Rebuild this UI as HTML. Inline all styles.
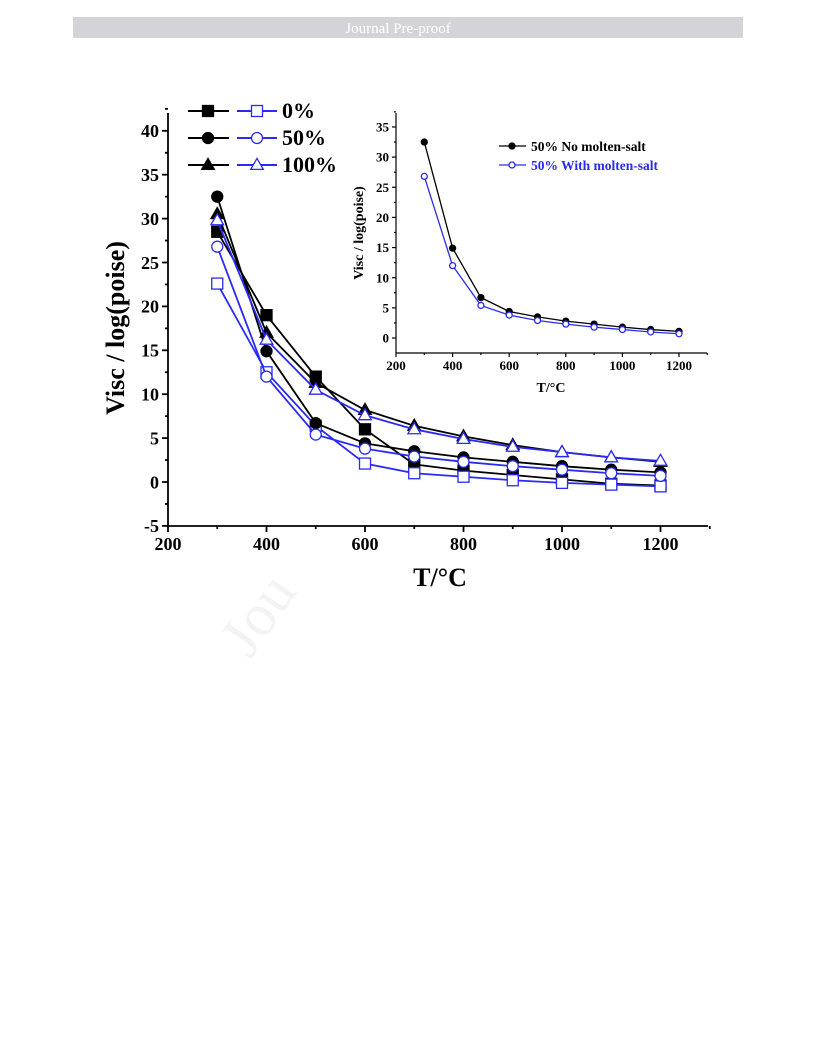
<!DOCTYPE html>
<html><head><meta charset="utf-8"><style>
body{margin:0;background:#fff;width:816px;height:1056px;overflow:hidden;font-family:"Liberation Serif",serif}
</style></head><body>
<svg width="816" height="1056" xmlns="http://www.w3.org/2000/svg">
<rect x="73" y="17" width="670" height="21" fill="#d4d4d8"/>
<text x="398" y="33" text-anchor="middle" fill="#fff" font-size="15">Journal Pre-proof</text>
<text x="250" y="660" transform="rotate(-55 250 660)" fill="#f3f3f3" font-size="60">Jou</text>
<g id="main"></g>
<g id="inset"></g>
</svg>
<script>
const temps=[300,400,500,600,700,800,900,1000,1100,1200];
const s0Black=[28.5,19,12,6,2,1.3,0.8,0.3,-0.2,-0.4];
const s0Blue=[22.6,12.5,6.4,2.1,1.0,0.6,0.2,-0.1,-0.3,-0.5];
const s50Black=[32.5,14.9,6.7,4.4,3.5,2.8,2.3,1.8,1.4,1.1];
const s50Blue=[26.8,12,5.4,3.8,2.9,2.3,1.8,1.4,1.0,0.7];
const s100Black=[30.5,17,11.3,8.2,6.4,5.2,4.2,3.4,2.8,2.3];
const s100Blue=[29.8,16.2,10.5,7.6,6.0,4.9,4.0,3.4,2.8,2.4];
const insetBlack=[32.5,14.9,6.7,4.4,3.5,2.8,2.3,1.8,1.4,1.1];
const insetBlue=[26.8,12,5.4,3.8,2.9,2.3,1.8,1.4,1.0,0.7];
const mainXTicks=[200,400,600,800,1000,1200];
const mainYTicks=[-5,0,5,10,15,20,25,30,35,40];
const insetXTicks=[200,400,600,800,1000,1200];
const insetYTicks=[0,5,10,15,20,25,30,35];
const NS="http://www.w3.org/2000/svg";
function mk(p,t,a){const e=document.createElementNS(NS,t);for(const k in a)e.setAttribute(k,a[k]);p.appendChild(e);return e;}
function chart(g,o){
 const X=v=>o.x0+(v-200)*o.kx, Y=v=>o.y0-v*o.ky;
 mk(g,'line',{x1:o.x0,y1:o.top,x2:o.x0,y2:o.bot,stroke:'#000','stroke-width':o.sw});
 mk(g,'line',{x1:o.x0,y1:o.bot,x2:o.right,y2:o.bot,stroke:'#000','stroke-width':o.sw});
 o.xt.forEach(v=>{
  let l=mk(g,'line',{x1:X(v),y1:o.bot,x2:X(v),y2:o.bot+o.tl,stroke:'#000','stroke-width':o.sw});
  
  mk(g,'line',{x1:X(v+100),y1:o.bot,x2:X(v+100),y2:o.bot+o.tl/2,stroke:'#000','stroke-width':o.sw});
  let t=mk(g,'text',{x:X(v),y:o.bot+o.tl+o.fs,'text-anchor':'middle','font-size':o.fs,'font-weight':'bold'});t.textContent=v;
  
 });
 o.yt.forEach(v=>{
  mk(g,'line',{x1:o.x0-o.tl,y1:Y(v),x2:o.x0,y2:Y(v),stroke:'#000','stroke-width':o.sw});
  mk(g,'line',{x1:o.x0-o.tl/2,y1:Y(v+2.5),x2:o.x0,y2:Y(v+2.5),stroke:'#000','stroke-width':o.sw});
  let t=mk(g,'text',{x:o.x0-o.tl-3,y:Y(v)+o.fs*0.35,'text-anchor':'end','font-size':o.fs,'font-weight':'bold'});t.textContent=v;
  
 });
 let xt=mk(g,'text',{x:o.xlx,y:o.xly,'text-anchor':'middle','font-size':o.tfs,'font-weight':'bold'});xt.textContent='T/°C';
 
 let yt=mk(g,'text',{x:o.ylx,y:o.yly,'text-anchor':'middle','font-size':o.tfs,'font-weight':'bold',transform:`rotate(-90 ${o.ylx} ${o.yly})`});yt.textContent='Visc / log(poise)';
 
 o.series.forEach(s=>{
  const pts=temps.map((t,i)=>X(t)+','+Y(s.d[i])).join(' ');
  let pl=mk(g,'polyline',{points:pts,fill:'none',stroke:s.c,'stroke-width':o.lw});
  
  temps.forEach((t,i)=>{let m=marker(g,s.m,X(t),Y(s.d[i]),o.ms,s.c,s.f);
   });
 });
}
function marker(g,type,x,y,r,c,filled){
 const a={fill:filled?c:'#fff',stroke:c,'stroke-width':1.3};
 if(type==='s')return mk(g,'rect',Object.assign({x:x-r,y:y-r,width:2*r,height:2*r},a));
 if(type==='c')return mk(g,'circle',Object.assign({cx:x,cy:y,r:r},a));
 return mk(g,'polygon',Object.assign({points:`${x},${y-r*1.2} ${x-r*1.15},${y+r*0.8} ${x+r*1.15},${y+r*0.8}`},a));
}
const blue='#2a2af5';
const gm=document.getElementById('main');
chart(gm,{x0:168,kx:0.4925,y0:482,ky:8.78,top:113,bot:526,right:708,tl:6,sw:1.8,fs:18,tfs:26,lw:1.8,ms:5.5,
 xt:mainXTicks,yt:mainYTicks,xlx:440,xly:586,ylx:124,yly:328,
 series:[{n:'0pct-black',d:s0Black,c:'#000',f:1,m:'s'},{n:'0pct-blue',d:s0Blue,c:blue,f:0,m:'s'},
 {n:'50pct-black',d:s50Black,c:'#000',f:1,m:'c'},{n:'50pct-blue',d:s50Blue,c:blue,f:0,m:'c'},
 {n:'100pct-black',d:s100Black,c:'#000',f:1,m:'t'},{n:'100pct-blue',d:s100Blue,c:blue,f:0,m:'t'}]});
const labels=['0%','50%','100%'],ms=['s','c','t'];
labels.forEach((l,i)=>{const y=111+i*27;
 const lg=mk(gm,'g',{});
 mk(lg,'line',{x1:188,y1:y,x2:229,y2:y,stroke:'#000','stroke-width':2});
 marker(lg,ms[i],208,y,5.5,'#000',1);
 mk(lg,'line',{x1:237,y1:y,x2:277,y2:y,stroke:blue,'stroke-width':2});
 marker(lg,ms[i],257,y,5.5,blue,0);
 const t=mk(lg,'text',{x:282,y:y+7,'font-size':22,'font-weight':'bold'});t.textContent=l;});
const gi=document.getElementById('inset');
chart(gi,{x0:396,kx:0.283,y0:338,ky:6.03,top:113,bot:353,right:707,tl:4,sw:1.2,fs:13,tfs:14,lw:1.3,ms:3,
 xt:insetXTicks,yt:insetYTicks,xlx:551,xly:392,ylx:363,yly:233,
 series:[{n:'inset-no-salt',d:insetBlack,c:'#000',f:1,m:'c'},{n:'inset-with-salt',d:insetBlue,c:blue,f:0,m:'c'}]});
[['50% No molten-salt','#000',1],['50% With molten-salt',blue,0]].forEach((e,i)=>{const y=146+i*19;
 const lg=mk(gi,'g',{});
 mk(lg,'line',{x1:499,y1:y,x2:526,y2:y,stroke:e[1],'stroke-width':1.3});
 marker(lg,'c',512,y,3,e[1],e[2]);
 const t=mk(lg,'text',{x:531,y:y+5,'font-size':13.5,'font-weight':'bold',fill:e[1]});t.textContent=e[0];});
</script>
</body></html>
